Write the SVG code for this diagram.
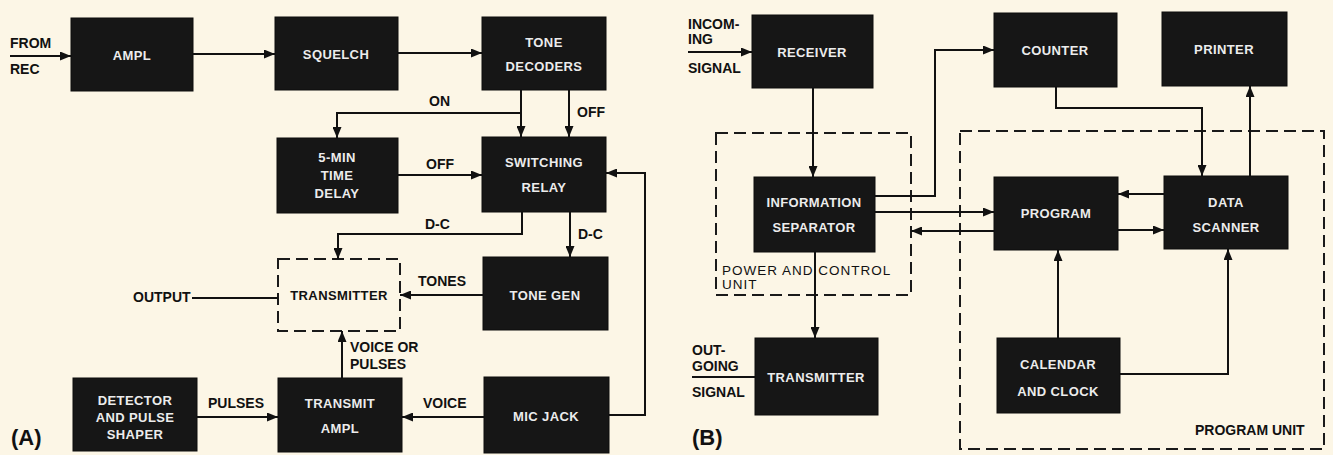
<svg xmlns="http://www.w3.org/2000/svg" width="1333" height="455" viewBox="0 0 1333 455">
<style>
.box{fill:#161616;stroke:#0c0c0c;stroke-width:1}
.dash{fill:none;stroke:#1a1a1a;stroke-width:2;stroke-dasharray:12 6}
.bt{fill:#ececec;font-family:"Liberation Sans",Arial,sans-serif;font-size:13px;font-weight:bold;text-anchor:middle;dominant-baseline:central;letter-spacing:0.4px}
.lb{fill:#111;font-family:"Liberation Sans",Arial,sans-serif;font-size:14px;font-weight:bold;dominant-baseline:central}
.unit{fill:#111;font-family:"Liberation Sans",Arial,sans-serif;font-size:13.5px;dominant-baseline:central;letter-spacing:1px}
.big{fill:#111;font-family:"Liberation Sans",Arial,sans-serif;font-size:22px;font-weight:bold;dominant-baseline:central}
.c path{fill:none;stroke:#111;stroke-width:2}
.c .a{marker-end:url(#ah)}
</style>
<defs>
<marker id="ah" markerUnits="userSpaceOnUse" markerWidth="11" markerHeight="9" refX="11" refY="4.5" orient="auto">
<path d="M0,0 L11,4.5 L0,9 z" fill="#111"/>
</marker>
</defs>
<rect x="0" y="0" width="1333" height="455" fill="#fcf6e6"/>

<!-- (A) nodes -->
<g id="ampl"><rect class="box" x="71" y="18" width="122" height="73"/><text class="bt" x="132" y="55">AMPL</text></g>
<g id="squelch"><rect class="box" x="275" y="17" width="123" height="73"/><text class="bt" x="336" y="54">SQUELCH</text></g>
<g id="tone-decoders"><rect class="box" x="482" y="17" width="124" height="73"/><text class="bt" x="544" y="42">TONE</text><text class="bt" x="544" y="66">DECODERS</text></g>
<g id="time-delay"><rect class="box" x="277" y="138" width="121" height="75"/><text class="bt" x="337" y="157">5-MIN</text><text class="bt" x="337" y="175">TIME</text><text class="bt" x="337" y="193">DELAY</text></g>
<g id="switching-relay"><rect class="box" x="482" y="137" width="124" height="75"/><text class="bt" x="544" y="162">SWITCHING</text><text class="bt" x="544" y="187">RELAY</text></g>
<g id="transmitter-a"><rect class="dash" x="278" y="259" width="122" height="72"/><text class="bt" x="339" y="295" style="fill:#111">TRANSMITTER</text></g>
<g id="tone-gen"><rect class="box" x="483" y="257" width="125" height="73"/><text class="bt" x="545" y="295">TONE GEN</text></g>
<g id="detector"><rect class="box" x="73" y="378" width="124" height="73"/><text class="bt" x="135" y="400">DETECTOR</text><text class="bt" x="135" y="417">AND PULSE</text><text class="bt" x="135" y="434">SHAPER</text></g>
<g id="transmit-ampl"><rect class="box" x="278" y="378" width="124" height="74"/><text class="bt" x="340" y="403">TRANSMIT</text><text class="bt" x="340" y="428">AMPL</text></g>
<g id="mic-jack"><rect class="box" x="484" y="377" width="125" height="76"/><text class="bt" x="546" y="416">MIC JACK</text></g>

<!-- (B) nodes -->
<g id="power-control-unit"><rect class="dash" x="716" y="133" width="195" height="162"/><text class="unit" x="722" y="270">POWER AND CONTROL</text><text class="unit" x="722" y="284">UNIT</text></g>
<g id="program-unit"><rect class="dash" x="960" y="131" width="364" height="318"/><text class="lb" x="1195" y="430">PROGRAM UNIT</text></g>
<g id="receiver"><rect class="box" x="752" y="15" width="121" height="73"/><text class="bt" x="812" y="52">RECEIVER</text></g>
<g id="info-separator"><rect class="box" x="754" y="177" width="121" height="75"/><text class="bt" x="814" y="202">INFORMATION</text><text class="bt" x="814" y="227">SEPARATOR</text></g>
<g id="transmitter-b"><rect class="box" x="755" y="338" width="123" height="77"/><text class="bt" x="816" y="377">TRANSMITTER</text></g>
<g id="counter"><rect class="box" x="994" y="13" width="123" height="74"/><text class="bt" x="1055" y="50">COUNTER</text></g>
<g id="printer"><rect class="box" x="1162" y="12" width="125" height="74"/><text class="bt" x="1224" y="49">PRINTER</text></g>
<g id="program"><rect class="box" x="994" y="177" width="124" height="73"/><text class="bt" x="1056" y="213">PROGRAM</text></g>
<g id="data-scanner"><rect class="box" x="1164" y="176" width="124" height="73"/><text class="bt" x="1226" y="202">DATA</text><text class="bt" x="1226" y="227">SCANNER</text></g>
<g id="calendar-clock"><rect class="box" x="997" y="338" width="123" height="75"/><text class="bt" x="1058" y="364">CALENDAR</text><text class="bt" x="1058" y="391">AND CLOCK</text></g>

<!-- connectors -->
<g id="connectors" class="c">
<path class="a" d="M10,56 H71"/>
<path class="a" d="M193,54 H275"/>
<path class="a" d="M398,53 H482"/>
<path class="a" d="M521,90 V137"/>
<path class="a" d="M569,90 V137"/>
<path class="a" d="M521,113 H337 V138"/>
<path class="a" d="M398,175 H482"/>
<path class="a" d="M609,415 H645 V173 H606"/>
<path class="a" d="M522,212 V234 H338 V259"/>
<path class="a" d="M570,212 V257"/>
<path class="a" d="M483,295 H400"/>
<path d="M192,298 H278"/>
<path class="a" d="M342,378 V331"/>
<path class="a" d="M197,417 H278"/>
<path class="a" d="M484,417 H402"/>

<path class="a" d="M688,52 H752"/>
<path class="a" d="M813,88 V177"/>
<path class="a" d="M875,196 H935 V50 H994"/>
<path class="a" d="M875,212 H994"/>
<path class="a" d="M994,231 H911"/>
<path class="a" d="M815,252 V338"/>
<path d="M692,377 H755"/>
<path class="a" d="M1056,87 V108 H1202 V176"/>
<path class="a" d="M1250,176 V86"/>
<path class="a" d="M1164,194 H1118"/>
<path class="a" d="M1118,230 H1164"/>
<path class="a" d="M1058,338 V250"/>
<path class="a" d="M1120,374 H1228 V249"/>
</g>

<!-- labels -->
<g id="labels">
<text class="lb" x="10" y="43">FROM</text>
<text class="lb" x="10" y="69">REC</text>
<text class="lb" x="429" y="101">ON</text>
<text class="lb" x="577" y="112">OFF</text>
<text class="lb" x="426" y="164">OFF</text>
<text class="lb" x="425" y="224">D-C</text>
<text class="lb" x="578" y="234">D-C</text>
<text class="lb" x="418" y="281">TONES</text>
<text class="lb" x="133" y="297">OUTPUT</text>
<text class="lb" x="350" y="347">VOICE OR</text>
<text class="lb" x="350" y="364">PULSES</text>
<text class="lb" x="208" y="403">PULSES</text>
<text class="lb" x="423" y="403">VOICE</text>
<text class="big" x="11" y="437">(A)</text>

<text class="lb" x="688" y="24">INCOM-</text>
<text class="lb" x="688" y="39">ING</text>
<text class="lb" x="688" y="68">SIGNAL</text>
<text class="lb" x="692" y="350">OUT-</text>
<text class="lb" x="692" y="366">GOING</text>
<text class="lb" x="692" y="392">SIGNAL</text>
<text class="big" x="692" y="437">(B)</text>
</g>
</svg>
